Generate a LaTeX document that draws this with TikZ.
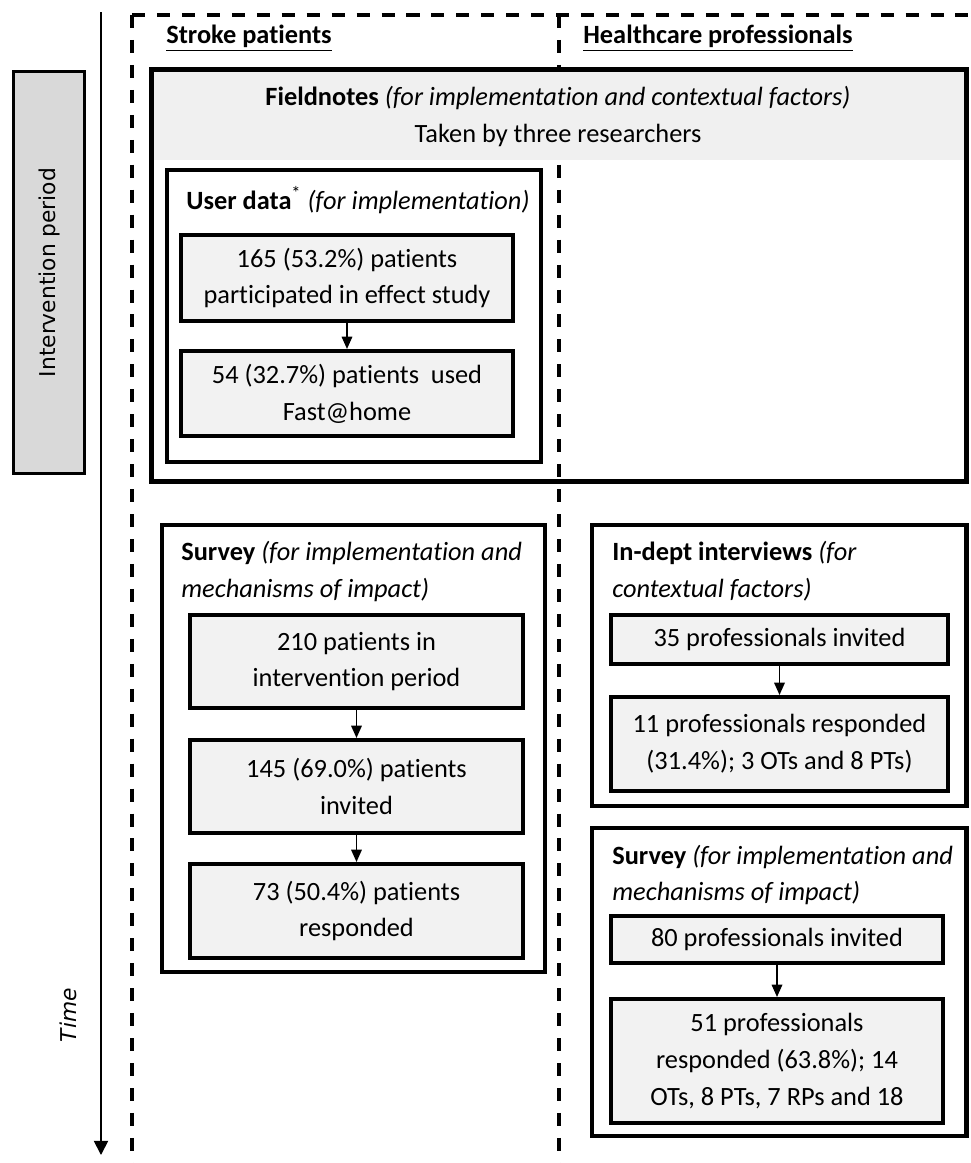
\documentclass[tikz,border=0pt]{standalone}
\usepackage{fontspec}
\setmainfont{Carlito}[Ligatures=NoCommon]
\newfontfamily\dejavu{DejaVu Sans}
\usetikzlibrary{arrows.meta}

\begin{document}
\begin{tikzpicture}[x=0.2mm,y=-0.2mm]
    % Define colours
    \definecolor{borderColour}{HTML}{000000}
    \definecolor{boxColour}{HTML}{F2F2F2}
    \definecolor{bandColour}{HTML}{F0F0F0}
    \definecolor{periodColour}{HTML}{D9D9D9}

    % Define text sizes
    \def\mainSize{\fontsize{15}{21}\selectfont}
    \def\sideSize{\dejavu\fontsize{12.4}{14}\selectfont}

    % Define styles
    \tikzset{
        countbox/.style={draw=borderColour, fill=boxColour, line width=2.3pt, align=center, inner sep=0pt, font=\mainSize},
        groupbox/.style={draw=borderColour, line width=2.8pt},
        columnline/.style={draw=borderColour, dash pattern=on 7.4pt off 6.8pt, line width=2.1pt},
        flowarrow/.style={draw=borderColour, line width=0.9pt, -{Triangle[width=6pt,length=7pt]}},
        headtext/.style={font=\mainSize, align=left, anchor=west, inner sep=0pt}
    }

    \useasboundingbox (0,0) rectangle (971,1163);

    % Draw the column lines
    \draw[columnline] (132,15) -- (971,15);
    \draw[columnline] (132,15) -- (132,1163);
    \draw[columnline] (559,15) -- (559,1163);

    % Column headings
    \node[headtext] (patientHead) at (166,38) {\textbf{\underline{Stroke patients}}};
    \node[headtext] (profHead) at (583,38) {\textbf{\underline{Healthcare professionals}}};

    % Time axis and intervention period
    \coordinate (timeStart) at (101,12);
    \coordinate (timeEnd) at (101,1155);
    \draw[draw=borderColour, line width=1pt, -{Triangle[width=8pt,length=8pt]}] (timeStart) -- (timeEnd);
    \node[font=\sideSize\itshape, rotate=90] (timeText) at (68,1015) {Time};
    \node[draw=borderColour, fill=periodColour, line width=1.9pt, rotate=90, minimum width=80.4mm, minimum height=14.2mm, font=\sideSize] (period) at (49,272.5) {Intervention period};

    % Fieldnotes box
    \fill[bandColour] (151.5,69.5) rectangle (966.5,160);
    \draw[groupbox] (151.5,69.5) rectangle (966.5,481.5);
    \node[font=\mainSize] (fieldTitle) at (558,98) {\textbf{Fieldnotes} \textit{(for implementation and contextual factors)}};
    \node[font=\mainSize] (fieldSub) at (558,135) {Taken by three researchers};

    % User data
    \draw[groupbox] (167,170) rectangle (541,462);
    \node[headtext] (userTitle) at (186,200) {\textbf{User data}\textsuperscript{*} \textit{(for implementation)}};
    \node[countbox, minimum width=66.4mm, minimum height=17.2mm] (usePart) at (347,278) {165 (53.2\%) patients\\participated in effect study};
    \node[countbox, minimum width=66.4mm, minimum height=17mm] (useUsed) at (347,393.5) {54 (32.7\%) patients\ \ used\\Fast@home};
    \draw[flowarrow] (usePart) -- (useUsed);

    % Survey of stroke patients
    \draw[groupbox] (162,525) rectangle (545,972);
    \node[headtext] (patSurveyTitle) at (181,571.5) {\textbf{Survey} \textit{(for implementation and}\\\textit{mechanisms of impact)}};
    \node[countbox, minimum width=66.6mm, minimum height=18.6mm] (patTotal) at (356.5,661.5) {210 patients in\\intervention period};
    \node[countbox, minimum width=66.6mm, minimum height=18.6mm] (patInvited) at (356.5,786.5) {145 (69.0\%) patients\\invited};
    \node[countbox, minimum width=66.6mm, minimum height=18.8mm] (patResp) at (356.5,911) {73 (50.4\%) patients\\responded};
    \draw[flowarrow] (patTotal) -- (patInvited);
    \draw[flowarrow] (patInvited) -- (patResp);

    % In-depth interviews of professionals
    \draw[groupbox] (592,525) rectangle (966.5,806);
    \node[headtext] (intTitle) at (612,571.5) {\textbf{In-dept interviews} \textit{(for}\\\textit{contextual factors)}};
    \node[countbox, minimum width=67.4mm, minimum height=9.8mm] (intInvited) at (779.5,639.5) {35 professionals invited};
    \node[countbox, minimum width=67.4mm, minimum height=18.8mm] (intResp) at (779.5,744) {11 professionals responded\\(31.4\%); 3 OTs and 8 PTs)};
    \draw[flowarrow] (intInvited) -- (intResp);

    % Survey of professionals
    \draw[groupbox] (592,828) rectangle (966.5,1136);
    \node[headtext] (profSurveyTitle) at (612,875) {\textbf{Survey} \textit{(for implementation and}\\\textit{mechanisms of impact)}};
    \node[countbox, minimum width=66.4mm, minimum height=9.4mm] (profInvited) at (777,939.5) {80 professionals invited};
    \node[countbox, minimum width=66.4mm, minimum height=24.8mm] (profResp) at (777,1061) {51 professionals\\responded (63.8\%); 14\\OTs, 8 PTs, 7 RPs and 18};
    \draw[flowarrow] (profInvited) -- (profResp);

\end{tikzpicture}
\end{document}
